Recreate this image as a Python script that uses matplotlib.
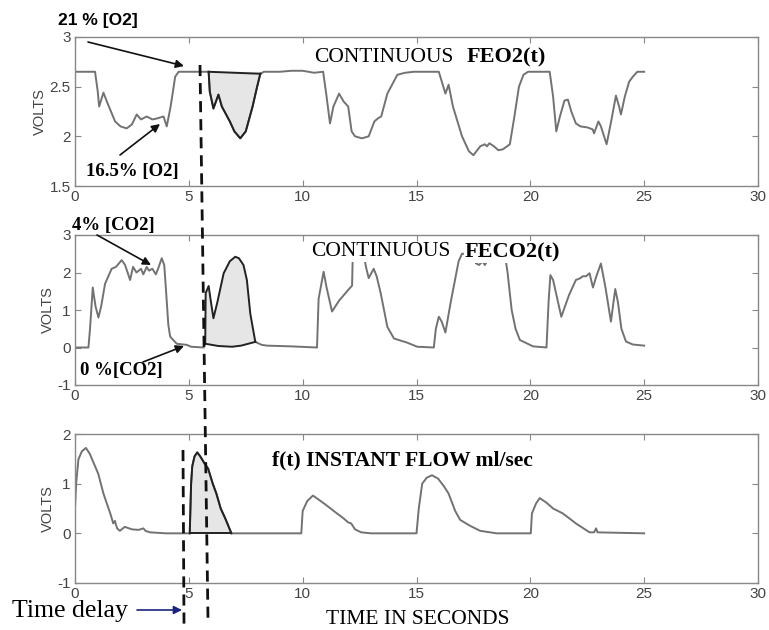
import matplotlib
matplotlib.use('Agg')
import matplotlib.pyplot as plt
import numpy as np
from matplotlib.lines import Line2D

plt.rcParams['axes.unicode_minus'] = False

# ---- data ----
# FEO2 (top)
o2_t_pre = [0, 0.88, 1.0, 1.06, 1.25, 1.4, 1.76, 2.0, 2.27, 2.5, 2.71, 2.9, 3.15, 3.4, 3.6, 3.89, 4.03, 4.2,
            4.4, 4.55, 5.0, 5.5, 5.87]
o2_v_pre = [2.65, 2.65, 2.45, 2.30, 2.44, 2.35, 2.15, 2.1, 2.08, 2.12, 2.22, 2.17, 2.2, 2.17, 2.18, 2.2, 2.1, 2.3,
            2.6, 2.65, 2.65, 2.65, 2.65]
o2_t_sh = [5.87, 5.92, 6.08, 6.3, 6.45, 6.8, 7.0, 7.26, 7.5, 7.8, 8.0, 8.14]
o2_v_sh = [2.65, 2.45, 2.28, 2.42, 2.3, 2.15, 2.05, 1.98, 2.05, 2.3, 2.5, 2.63]
o2_t_post = [8.14, 8.3, 9.0, 9.5, 10.0, 10.5, 10.9, 11.05, 11.2, 11.35, 11.6, 11.8, 12.0, 12.15, 12.3, 12.6,
             12.9, 13.15, 13.3, 13.45, 13.72, 14.16, 14.5, 14.88, 15.98, 16.27, 16.41, 16.6, 17.0, 17.3, 17.5,
             17.8, 18.0, 18.1, 18.2, 18.4, 18.6, 18.8, 19.1, 19.3, 19.5, 19.7, 19.9, 20.85, 21.0, 21.14, 21.3,
             21.5, 21.65, 21.8, 22.0, 22.2, 22.5, 22.74, 22.8, 22.99, 23.1, 23.35, 23.55, 23.76, 23.9, 23.98,
             24.15, 24.34, 24.5, 24.7, 25.0]
o2_v_post = [2.63, 2.65, 2.65, 2.66, 2.66, 2.64, 2.65, 2.4, 2.13, 2.3, 2.43, 2.35, 2.3, 2.05, 2.0, 1.98,
             2.0, 2.15, 2.18, 2.2, 2.43, 2.62, 2.64, 2.65, 2.65, 2.43, 2.52, 2.3, 2.0, 1.85, 1.81,
             1.9, 1.92, 1.9, 1.93, 1.9, 1.86, 1.87, 1.92, 2.2, 2.5, 2.62, 2.65, 2.65, 2.4, 2.05, 2.2,
             2.36, 2.37, 2.25, 2.13, 2.1, 2.09, 2.07, 2.03, 2.15, 2.1, 1.92, 2.15, 2.41, 2.3, 2.22,
             2.4, 2.55, 2.6, 2.65, 2.65]

# FECO2 (middle)
co2_t_pre = [0, 0.59, 0.66, 0.78, 0.9, 1.03, 1.15, 1.32, 1.61, 1.8, 2.05, 2.2, 2.42, 2.55, 2.7, 2.9, 3.0,
             3.15, 3.25, 3.4, 3.55, 3.65, 3.81, 3.92, 4.0, 4.1, 4.18, 4.47, 4.91, 5.1, 5.65]
co2_v_pre = [0, 0, 0.5, 1.6, 1.1, 0.8, 1.1, 1.7, 2.1, 2.15, 2.33, 2.2, 1.8, 2.15, 2.0, 2.1, 1.95,
             2.15, 2.05, 2.1, 1.95, 2.1, 2.38, 2.2, 1.5, 0.6, 0.29, 0.1, 0.07, 0.02, 0.0]
co2_t_sh = [5.72, 5.74, 5.87, 5.95, 6.08, 6.25, 6.53, 6.8, 7.04, 7.2, 7.4, 7.55, 7.7, 7.92]
co2_v_sh = [0.1, 1.45, 1.64, 1.3, 0.78, 1.2, 1.98, 2.3, 2.42, 2.38, 2.2, 1.8, 0.9, 0.15]
co2_t_base = [5.72, 6.3, 6.9, 7.3, 7.92]
co2_v_base = [0.1, 0.04, 0.02, 0.05, 0.15]
co2_t_post = [7.92, 8.2, 8.43, 9.5, 10.63, 10.7, 10.92, 11.05, 11.29, 11.6, 11.95, 12.17, 12.2, 12.5, 12.7,
              12.8, 12.9, 13.12, 13.25, 13.43, 13.72, 14.01, 14.59, 15.03, 15.76, 15.85, 15.98, 16.1, 16.27,
              16.5, 16.85, 17.0, 17.5, 17.6, 17.75, 17.9, 18.0, 18.1, 18.3, 18.89, 19.0, 19.18, 19.35, 19.54,
              20.12, 20.71, 20.8, 20.88, 21.0, 21.36, 21.7, 22.0, 22.2, 22.3, 22.45, 22.6, 22.75, 22.9, 23.1,
              23.3, 23.54, 23.73, 23.85, 24.0, 24.2, 24.5, 25.0]
co2_v_post = [0.15, 0.07, 0.05, 0.03, 0.0, 1.3, 2.02, 1.6, 0.96, 1.25, 1.5, 1.65, 2.45, 2.5, 2.4,
              2.1, 1.85, 2.1, 1.9, 1.44, 0.55, 0.24, 0.13, 0.02, 0.0, 0.5, 0.82, 0.7, 0.4,
              1.2, 2.3, 2.5, 2.5, 2.25, 2.2, 2.3, 2.2, 2.3, 2.45, 2.45, 2.0, 1.0, 0.5, 0.2,
              0.03, 0.0, 1.2, 1.93, 1.8, 0.82, 1.4, 1.8, 1.85, 1.9, 1.9, 1.98, 1.6, 1.9, 2.24,
              1.6, 0.69, 1.56, 1.2, 0.5, 0.16, 0.08, 0.05]

# flow (bottom)
fl_t_pre = [0, 0.05, 0.15, 0.3, 0.48, 0.65, 1.02, 1.25, 1.39, 1.55, 1.68, 1.75, 1.85, 1.97, 2.1, 2.19, 2.5,
            2.8, 3.0, 3.1, 3.29, 4.0, 5.04]
fl_v_pre = [0.5, 1.0, 1.49, 1.65, 1.72, 1.6, 1.2, 0.8, 0.61, 0.4, 0.2, 0.25, 0.1, 0.05, 0.1, 0.13, 0.08,
            0.07, 0.1, 0.05, 0.02, 0.0, 0.0]
fl_t_sh = [5.04, 5.1, 5.15, 5.25, 5.37, 5.5, 5.7, 5.85, 6.05, 6.21, 6.4, 6.6, 6.87]
fl_v_sh = [0.0, 1.0, 1.35, 1.55, 1.63, 1.55, 1.4, 1.3, 1.0, 0.8, 0.5, 0.3, 0.0]
fl_t_post = [6.87, 9.94, 10.0, 10.2, 10.45, 10.7, 11.0, 11.48, 11.8, 12.0, 12.13, 12.3, 12.57, 13.0, 15.0,
             15.1, 15.25, 15.45, 15.68, 15.95, 16.2, 16.41, 16.7, 16.92, 17.36, 17.8, 18.52, 20.02, 20.07,
             20.25, 20.41, 20.7, 21.0, 21.43, 22.0, 22.6, 22.8, 22.89, 22.95, 25.0]
fl_v_post = [0, 0, 0.45, 0.65, 0.76, 0.68, 0.58, 0.41, 0.3, 0.22, 0.2, 0.08, 0.02, 0.0, 0.0,
             0.5, 1.0, 1.12, 1.17, 1.1, 0.95, 0.8, 0.45, 0.27, 0.15, 0.05, 0.0, 0.0, 0.4,
             0.6, 0.71, 0.62, 0.5, 0.4, 0.2, 0.02, 0.02, 0.1, 0.02, 0.0]

ylims = [(1.5, 3), (-1, 3), (-1, 2)]
yticks = [[1.5, 2, 2.5, 3], [-1, 0, 1, 2, 3], [-1, 0, 1, 2]]
xticks = [0, 5, 10, 15, 20, 25, 30]

W, H = 769, 630
def fp(x, y):
    # image pixel (top-left origin) -> figure fraction
    return (x / W, 1 - y / H)

SERIF = 'Liberation Serif'
SANS = 'Liberation Sans'
LINE = '#727272'
FILL = '#e6e6e6'

fig = plt.figure(figsize=(7.69, 6.30), dpi=100)
boxes = [(75, 37, 758, 186), (75, 235, 758, 385), (75, 434, 758, 583)]
axs = []
for (x0, y0, x1, y1) in boxes:
    ax = fig.add_axes([x0 / W, 1 - y1 / H, (x1 - x0) / W, (y1 - y0) / H])
    axs.append(ax)

for i, ax in enumerate(axs):
    ax.set_xlim(0, 30)
    ax.set_ylim(*ylims[i])
    ax.set_xticks(xticks)
    ax.set_yticks(yticks[i])
    ax.set_xticklabels(['%g' % v for v in xticks], family=SANS, fontsize=11, color='#444444')
    ax.set_yticklabels(['%g' % v for v in yticks[i]], family=SANS, fontsize=11, color='#444444')
    ax.tick_params(direction='in', top=True, right=True, length=4, color='#888888', pad=3)
    for s in ax.spines.values():
        s.set_color('#888888')
        s.set_linewidth(1.0)
    ax.set_ylabel('VOLTS', family=SANS, fontsize=10.5, color='#444444', labelpad=2)

# top panel
ax = axs[0]
ax.plot(o2_t_pre + o2_t_sh[1:] + o2_t_post[1:], o2_v_pre + o2_v_sh[1:] + o2_v_post[1:], color=LINE, lw=1.4)
ax.fill_between(o2_t_sh, o2_v_sh, 2.65, facecolor=FILL, edgecolor='none')
ax.plot(o2_t_sh, o2_v_sh, color='#222222', lw=1.4)
ax.plot([o2_t_sh[0], o2_t_sh[-1]], [2.65, 2.63], color='#222222', lw=1.4)

# middle panel
ax = axs[1]
ax.plot(co2_t_pre, co2_v_pre, color=LINE, lw=1.4)
ax.plot(co2_t_post, co2_v_post, color=LINE, lw=1.4, zorder=1)
base = np.interp(co2_t_sh, co2_t_base, co2_v_base)
ax.fill_between(co2_t_sh, co2_v_sh, base, facecolor=FILL, edgecolor='none')
ax.plot(co2_t_sh, co2_v_sh, color='#222222', lw=1.4)
ax.plot(co2_t_base, co2_v_base, color='#222222', lw=1.4)

# bottom panel
ax = axs[2]
ax.plot(fl_t_pre + fl_t_sh[1:] + fl_t_post[1:], fl_v_pre + fl_v_sh[1:] + fl_v_post[1:], color=LINE, lw=1.4)
ax.fill_between(fl_t_sh, fl_v_sh, 0, facecolor=FILL, edgecolor='none')
ax.plot(fl_t_sh, fl_v_sh, color='#222222', lw=1.4)
ax.plot([fl_t_sh[0], fl_t_sh[-1]], [0, 0], color='#222222', lw=1.4)

# titles inside panels
fig.text(*fp(314, 57), 'CONTINUOUS', family=SERIF, fontsize=15.5, va='center', ha='left')
fig.text(*fp(467, 57), 'FEO2(t)', family=SERIF, fontsize=16, weight='bold', va='center', ha='left')
fig.text(*fp(311, 252), 'CONTINUOUS', family=SERIF, fontsize=15.5, va='center', ha='left',
         bbox=dict(facecolor='white', edgecolor='none', pad=0.5))
fig.text(*fp(465, 252), 'FECO2(t)', family=SERIF, fontsize=16, weight='bold', va='center', ha='left',
         bbox=dict(facecolor='white', edgecolor='none', pad=0.5))
fig.text(*fp(272, 460), 'f(t) INSTANT FLOW ml/sec', family=SERIF, fontsize=15.5, weight='bold',
         va='center', ha='left')
fig.text(*fp(418, 619), 'TIME IN SECONDS', family=SERIF, fontsize=15.5, va='center', ha='center')

# annotations
fig.text(*fp(58, 21), '21 % [O2]', family=SANS, fontsize=12.5, weight='bold', va='center', ha='left')
fig.text(*fp(86, 172), '16.5% [O2]', family=SERIF, fontsize=13.5, weight='bold', va='center', ha='left')
fig.text(*fp(72, 225), '4% [CO2]', family=SERIF, fontsize=13.5, weight='bold', va='center', ha='left')
fig.text(*fp(80, 371), '0 %[CO2]', family=SERIF, fontsize=13.5, weight='bold', va='center', ha='left')
fig.text(*fp(12, 611), 'Time delay', family=SERIF, fontsize=18.5, va='center', ha='left')

arrows = [((88, 42), (184, 66), '#111111'),
          ((120, 155), (160, 124), '#111111'),
          ((97, 235), (151, 265), '#111111'),
          ((143, 362), (184, 346), '#111111'),
          ((137, 610), (182, 610), '#1a237e')]
for tail, tip, c in arrows:
    fig.patches.append(matplotlib.patches.FancyArrowPatch(
        fp(*tail), fp(*tip), transform=fig.transFigure, arrowstyle='-|>', mutation_scale=12,
        color=c, lw=1.2, shrinkA=0, shrinkB=0))

# dashed delay markers
dash_lines = [((200, 65), (208, 620)), ((183, 450), (184, 624))]
for (xa, ya), (xb, yb) in dash_lines:
    pa, pb = fp(xa, ya), fp(xb, yb)
    fig.add_artist(Line2D([pa[0], pb[0]], [pa[1], pb[1]], transform=fig.transFigure,
                          color='#111111', lw=2, linestyle=(0, (4, 2.5)), zorder=10))

fig.savefig('out.png', dpi=100)
